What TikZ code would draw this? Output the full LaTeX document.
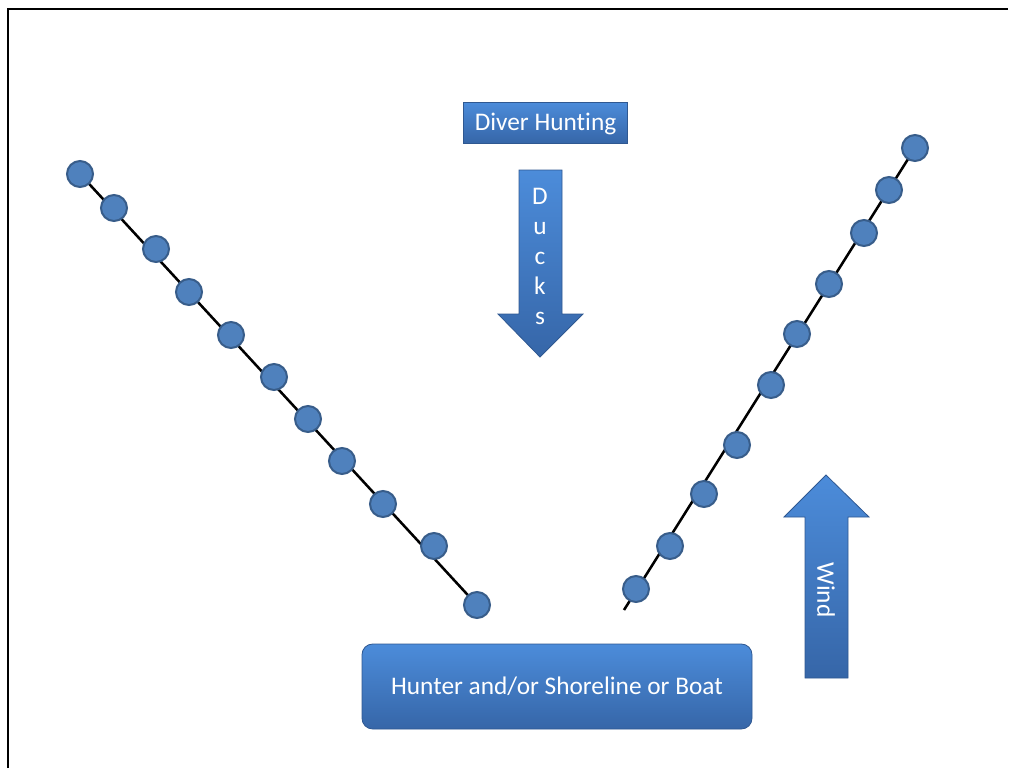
\documentclass[tikz,border=0pt]{standalone}
\usepackage{fontspec}
\setmainfont[Ligatures=NoCommon]{Carlito}
\definecolor{dotfill}{RGB}{79,129,189}
\definecolor{dotedge}{RGB}{56,93,138}
\definecolor{boxtop}{RGB}{76,140,218}
\definecolor{boxbot}{RGB}{54,102,168}
\definecolor{boxedge}{RGB}{47,88,145}
\begin{document}
\begin{tikzpicture}[x=0.75pt,y=-0.75pt,
  dot/.style={circle,minimum size=19.5pt,inner sep=0pt,fill=dotfill,draw=dotedge,line width=1.5pt},
  rowline/.style={line width=1.9pt,black},
  bluebox/.style={top color=boxtop,bottom color=boxbot,draw=boxedge,line width=0.6pt},
  lbl/.style={text=white,font=\fontsize{19}{22.5}\selectfont,align=center,inner sep=0pt},
  frameline/.style={line width=1.6pt,black}]
\useasboundingbox (0,0) rectangle (1010,768);
% frame
\coordinate (fa) at (8,768);
\coordinate (fb) at (8,9);
\coordinate (fc) at (1008,9);
\draw[frameline] (fa) -- (fb) -- (fc);
% left row
\coordinate (la) at (80,174);
\coordinate (lb) at (477,605);
\draw[rowline] (la) -- (lb);
\foreach \x/\y [count=\i] in {80/174,114/208,156/249,189/292,231/335,274/377,308/419,342/461,383/504,434/546,477/605}
  \node[dot] (l\i) at (\x,\y) {};
% right row
\coordinate (ra) at (624,610);
\coordinate (rb) at (915,148);
\draw[rowline] (ra) -- (rb);
\foreach \x/\y [count=\i] in {636/589,670/546,704/494,737/445,771/385,797/334,829/284,864/233,889/190,915/148}
  \node[dot] (r\i) at (\x,\y) {};
% Diver Hunting box
\node[bluebox,minimum width=123pt,minimum height=30.75pt,inner sep=0pt] (title) at (545.5,122.5) {};
\node[lbl] (titletext) at ([yshift=-1pt]title.center) {Diver Hunting};
% Ducks arrow
\path[bluebox] (519,170) -- (562,170) -- (562,314) -- (583,314) -- (540,357) -- (498,314) -- (519,314) -- cycle;
\node[lbl] (ducks) at (540,256) {D\\u\\c\\k\\s};
% Wind arrow
\path[bluebox] (805,678) -- (848,678) -- (848,517) -- (869,517) -- (826,475) -- (784,517) -- (805,517) -- cycle;
\node[lbl,rotate=-90] (wind) at (826,590) {Wind};
% Hunter box
\node[bluebox,rounded corners=8pt,minimum width=292.5pt,minimum height=63.75pt,inner sep=0pt] (hunter) at (557,686.5) {};
\node[lbl] (huntertext) at (hunter.center) {Hunter and/or Shoreline or Boat};
\end{tikzpicture}
\end{document}
